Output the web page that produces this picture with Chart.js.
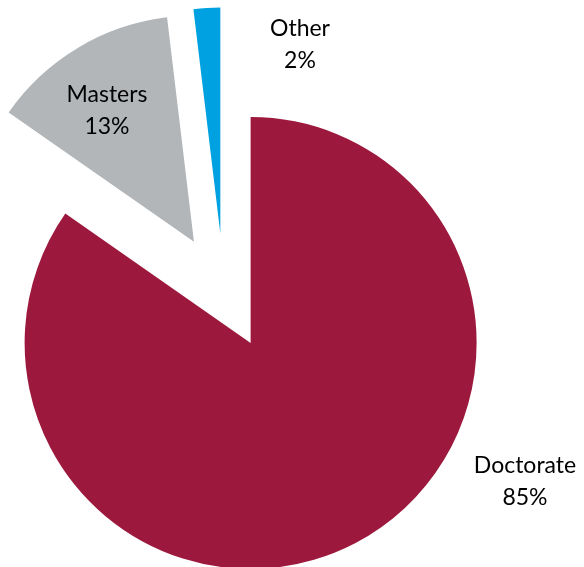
<!DOCTYPE html>
<html>
<head>
<meta charset="utf-8">
<script src="https://cdn.jsdelivr.net/npm/chart.js@4.4.1/dist/chart.umd.min.js"></script>
<style>
  html, body { margin: 0; padding: 0; background: #ffffff; }
  #wrap { width: 584px; height: 567px; position: relative; }
</style>
</head>
<body>
<div id="wrap"><canvas id="c" width="584" height="567"></canvas></div>
<script>
// ---- data ----
const categories = ['Doctorate', 'Masters', 'Other'];
const shares = [84.7, 13.4, 1.9];
const shareLabels = ['85%', '13%', '2%'];

// ---- style ----
const sliceColors = ['#9C193D', '#B2B6B9', '#00A1E0'];
const explodeDistance = 58;
const labelFont = '23px Lato, "Open Sans", sans-serif';
const labelLineGap = 32;
// label anchor (centre x, first baseline y) per category
const labelAnchors = [[525, 473], [107, 102], [300, 36]];

const explodePlugin = {
  id: 'explode',
  beforeDatasetDraw(chart, args) {
    const meta = args.meta;
    meta.data.forEach(el => {
      const mid = (el.startAngle + el.endAngle) / 2;
      el._origX = el.x; el._origY = el.y;
      el.x += Math.cos(mid) * explodeDistance;
      el.y += Math.sin(mid) * explodeDistance;
    });
  },
  afterDatasetDraw(chart, args) {
    args.meta.data.forEach(el => {
      el.x = el._origX; el.y = el._origY;
    });
  }
};

const labelPlugin = {
  id: 'sliceLabels',
  afterDraw(chart) {
    const ctx = chart.ctx;
    ctx.save();
    ctx.font = labelFont;
    ctx.fillStyle = '#000000';
    ctx.textAlign = 'center';
    ctx.textBaseline = 'alphabetic';
    categories.forEach((name, i) => {
      const [x, y] = labelAnchors[i];
      ctx.fillText(name, x, y);
      ctx.fillText(shareLabels[i], x, y + labelLineGap);
    });
    ctx.restore();
  }
};

new Chart(document.getElementById('c'), {
  type: 'pie',
  data: {
    labels: categories,
    datasets: [{
      data: shares,
      backgroundColor: sliceColors,
      borderWidth: 0
    }]
  },
  options: {
    responsive: false,
    animation: false,
    devicePixelRatio: 1,
    radius: 226,
    layout: { padding: { left: 0, right: 136.4, top: 16, bottom: 0 } },
    plugins: {
      legend: { display: false },
      tooltip: { enabled: false }
    }
  },
  plugins: [explodePlugin, labelPlugin]
});
</script>
</body>
</html>
